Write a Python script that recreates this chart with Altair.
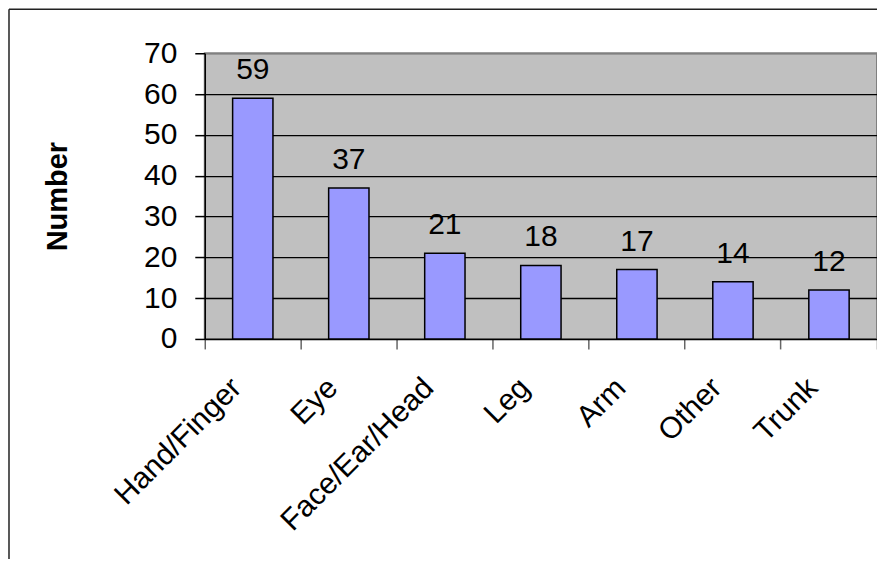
import altair as alt
import pandas as pd

categories = ["Hand/Finger", "Eye", "Face/Ear/Head", "Leg", "Arm", "Other", "Trunk"]
values = [59, 37, 21, 18, 17, 14, 12]
y_ticks = [0, 10, 20, 30, 40, 50, 60, 70]

df = pd.DataFrame({"part": categories, "n": values})
FONT = "Liberation Sans"

x_enc = alt.X(
    "part:N",
    sort=categories,
    title=None,
    scale=alt.Scale(paddingInner=0, paddingOuter=0),
    axis=alt.Axis(
        bandPosition=1,
        tickExtra=True,
        labelAngle=-45,
        labelAlign="right",
        labelBaseline="middle",
        labelFontSize=30,
        labelFont=FONT,
        labelColor="black",
        labelPadding=34,
        labelOffset=-16,
        labelLimit=500,
        labelOverlap=False,
        labelBound=False,
        tickSize=10,
        tickColor="#666666",
        tickWidth=1.5,
        domainColor="black",
        domainWidth=1.5,
        grid=False,
    ),
)

y_enc = alt.Y(
    "n:Q",
    scale=alt.Scale(domain=[0, 70], nice=False),
    axis=alt.Axis(
        values=y_ticks,
        title="Number",
        titleFontSize=29,
        titleFont=FONT,
        titleFontWeight="bold",
        titleColor="black",
        titleAngle=-90,
        titleX=-138,
        titleY=143,
        titleBaseline="alphabetic",
        titleAlign="center",
        labelFontSize=30,
        labelFont=FONT,
        labelColor="black",
        labelPadding=18,
        tickSize=10,
        tickColor="black",
        tickWidth=1.5,
        domainColor="black",
        domainWidth=1.5,
        grid=True,
        gridColor={"condition": {"test": "datum.value == 70 || datum.value == 0", "value": "#808080"}, "value": "black"},
        gridWidth=1.3,
    ),
)

base = alt.Chart(df).encode(x=x_enc)

bars = base.mark_bar(
    width=alt.RelativeBandSize(0.42),
    color="#9999FF",
    stroke="black",
    strokeWidth=1.5,
).encode(y=y_enc)

labels = base.mark_text(
    fontSize=30, font=FONT, baseline="alphabetic", dy=-19, color="black"
).encode(y=alt.Y("n:Q"), text=alt.Text("n:Q"))

frame_df = pd.DataFrame({"k": [0]})
left_line = alt.Chart(frame_df).mark_rule(color="#222222", strokeWidth=1.5).encode(
    x=alt.value(-196), y=alt.value(-44), y2=alt.value(530)
)
top_line = alt.Chart(frame_df).mark_rule(color="#222222", strokeWidth=1.5).encode(
    y=alt.value(-44), x=alt.value(-196), x2=alt.value(700)
)

chart = (
    alt.layer(bars, labels, left_line, top_line)
    .properties(
        width=673,
        height=286,
        autosize=alt.AutoSizeParams(type="none"),
        padding={"left": 197, "top": 45, "right": 0, "bottom": 220},
        background="white",
    )
    .configure_view(fill="#C0C0C0", stroke="#808080", strokeWidth=2)
)

chart.save("out.html", embed_options={"renderer": "svg", "actions": False})
